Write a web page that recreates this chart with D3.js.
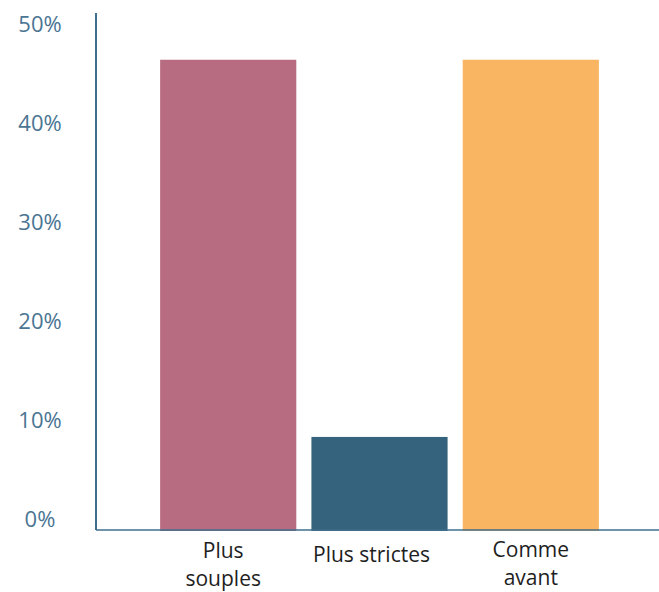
<!DOCTYPE html>
<html>
<head>
<meta charset="utf-8">
<script src="https://cdn.jsdelivr.net/npm/d3@7"></script>
<style>
  body { margin: 0; background: #fff; }
  svg { display: block; }
</style>
</head>
<body>
<svg id="chart" width="659" height="592"></svg>
<script>
// Share of answers per category
const categories = ["Plus souples", "Plus strictes", "Comme avant"];
const labelLines = [["Plus", "souples"], ["Plus strictes"], ["Comme", "avant"]];
const values = [47.5, 9.4, 47.5];
const colors = ["#b76c82", "#35627c", "#f9b562"];
const yTicks = [0, 10, 20, 30, 40, 50];

const svg = d3.select("#chart");
const axisColor = "#3f6f8c";

const x = d3.scaleBand()
  .domain(categories)
  .range([145, 614])
  .paddingInner(0.1)
  .paddingOuter(0.1);

const y = d3.scaleLinear()
  .domain([0, 50])
  .range([530, 35]);

// Bars
svg.append("g")
  .selectAll("rect")
  .data(categories)
  .join("rect")
  .attr("x", d => x(d))
  .attr("width", x.bandwidth())
  .attr("y", (d, i) => y(values[i]))
  .attr("height", (d, i) => y(0) - y(values[i]) + 1)
  .attr("fill", (d, i) => colors[i]);

// Axis lines
svg.append("line")
  .attr("x1", 96).attr("x2", 96)
  .attr("y1", 13).attr("y2", y(0))
  .attr("stroke", axisColor).attr("stroke-width", 2);
svg.append("line")
  .attr("x1", 96).attr("x2", 659)
  .attr("y1", y(0)).attr("y2", y(0))
  .attr("stroke", axisColor).attr("stroke-width", 1.6);

// Y tick labels, sitting just above their value
svg.append("g")
  .selectAll("text")
  .data(yTicks)
  .join("text")
  .attr("x", 40)
  .attr("y", d => y(d) - 3)
  .attr("text-anchor", "middle")
  .attr("font-family", "'Open Sans', Lato, sans-serif")
  .attr("font-size", 22)
  .attr("fill", "#4a7593")
  .text(d => d + "%");

// Category labels
const catG = svg.append("g")
  .selectAll("text")
  .data(categories)
  .join("text")
  .attr("text-anchor", "middle")
  .attr("font-family", "'Open Sans', Lato, sans-serif")
  .attr("font-size", 21)
  .attr("fill", "#1e1e1e");

catG.each(function(d, i) {
  const lines = labelLines[i];
  const cx = x(d) + x.bandwidth() / 2 + (i === 0 ? -5 : i === 1 ? -8 : 0);
  const startY = lines.length === 1 ? 562 : (i === 2 ? 557 : 558);
  lines.forEach((ln, j) => {
    d3.select(this).append("tspan")
      .attr("x", cx)
      .attr("y", startY + j * 28)
      .text(ln);
  });
});
</script>
</body>
</html>
